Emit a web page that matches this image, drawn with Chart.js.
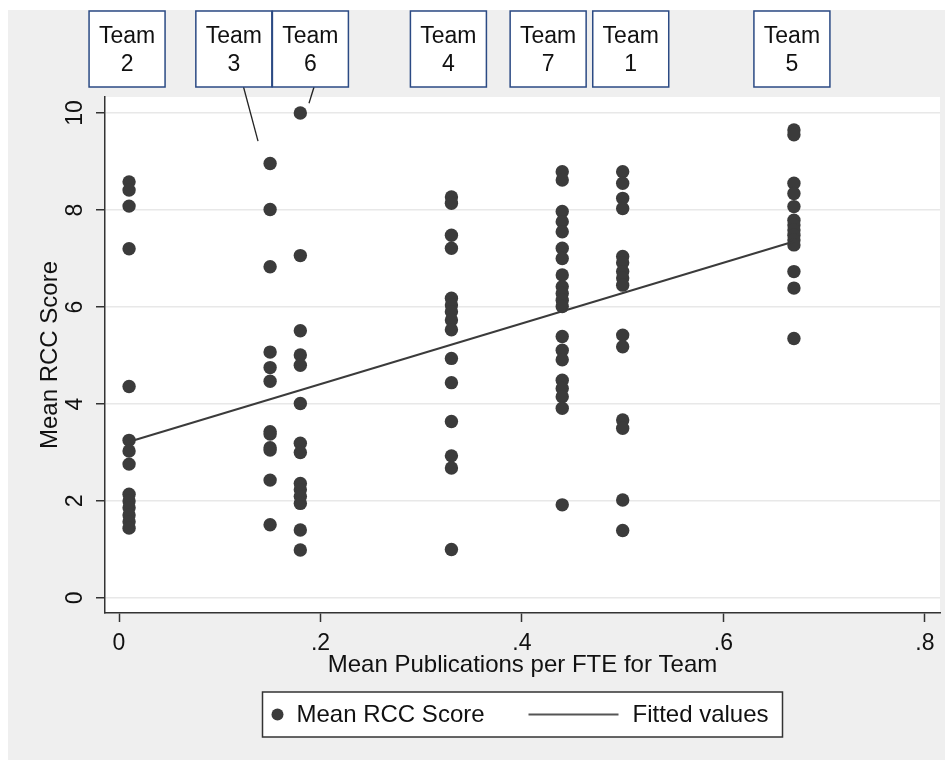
<!DOCTYPE html>
<html><head><meta charset="utf-8">
<script src="https://cdn.jsdelivr.net/npm/chart.js@4.4.1/dist/chart.umd.min.js"></script>
<style>html,body{margin:0;padding:0;background:#fff}canvas{display:block}</style>
</head><body>
<canvas id="c" width="951" height="764"></canvas>
<script>
// ---- data ----
const teamNames = ['Team 2', 'Team 3', 'Team 6', 'Team 4', 'Team 7', 'Team 1', 'Team 5'];
const teamPubs  = [0.01, 0.15, 0.18, 0.33, 0.44, 0.50, 0.67];
const team2Scores = [8.58, 8.41, 8.08, 7.20, 4.36, 3.25, 3.03, 2.76, 2.14, 2.00, 1.86, 1.71, 1.57, 1.44];
const team3Scores = [8.96, 8.01, 6.83, 5.07, 4.75, 4.47, 3.43, 3.38, 3.10, 3.05, 2.43, 1.51];
const team6Scores = [10.0, 7.06, 5.51, 5.01, 4.80, 4.01, 3.19, 3.00, 2.36, 2.23, 2.09, 1.95, 1.40, 0.99];
const team4Scores = [8.27, 8.14, 7.48, 7.21, 6.18, 6.04, 5.90, 5.73, 5.53, 4.94, 4.44, 3.64, 2.93, 2.68, 1.00];
const team7Scores = [8.79, 8.62, 7.97, 7.76, 7.55, 7.21, 7.00, 6.66, 6.42, 6.28, 6.14, 6.01, 5.39, 5.11, 4.91, 4.49, 4.32, 4.15, 3.91, 1.92];
const team1Scores = [8.79, 8.55, 8.24, 8.03, 7.04, 6.91, 6.73, 6.60, 6.45, 5.42, 5.18, 3.67, 3.50, 2.02, 1.39];
const team5Scores = [9.65, 9.55, 8.55, 8.34, 8.07, 7.79, 7.69, 7.59, 7.48, 7.38, 7.28, 6.73, 6.39, 5.35];
const fittedX = [0.01, 0.67];
const fittedY = [3.22, 7.35];
const xTickValues = [0, 0.2, 0.4, 0.6, 0.8];
const xTickLabels = ['0', '.2', '.4', '.6', '.8'];
const yTickValues = [0, 2, 4, 6, 8, 10];
const yTickLabels = ['0', '2', '4', '6', '8', '10'];
const xTitle = 'Mean Publications per FTE for Team';
const yTitle = 'Mean RCC Score';
const legendLabels = ['Mean RCC Score', 'Fitted values'];

// ---- team marker-label placement (data x of label boxes, leader lines) ----
const labelBoxX = [0.008, 0.114, 0.190, 0.327, 0.426, 0.508, 0.668];
const leaders = [
  { fromX: 0.1236, toX: 0.138, toY: 9.42 },
  { fromX: 0.1936, toX: 0.1886, toY: 10.2 }
];

const allScores = [team2Scores, team3Scores, team6Scores, team4Scores, team7Scores, team1Scores, team5Scores];
const scatterData = [];
allScores.forEach((arr, i) => arr.forEach(v => scatterData.push({ x: teamPubs[i], y: v })));
const fitData = fittedX.map((x, i) => ({ x, y: fittedY[i] }));

const FONT = '"Liberation Sans", Arial, sans-serif';
const INK = '#3b3b3b';

const bgPlugin = {
  id: 'bg',
  beforeDraw(chart) {
    const ctx = chart.ctx, a = chart.chartArea;
    ctx.save();
    ctx.fillStyle = '#ffffff';
    ctx.fillRect(0, 0, chart.width, chart.height);
    ctx.fillStyle = '#efefef';
    ctx.fillRect(8, 10, 937, 750);
    ctx.fillStyle = '#ffffff';
    ctx.fillRect(a.left, a.top, a.right - a.left, a.bottom - a.top);
    ctx.restore();
  }
};

const decoPlugin = {
  id: 'deco',
  afterDraw(chart) {
    const ctx = chart.ctx, a = chart.chartArea;
    const xs = chart.scales.x, ys = chart.scales.y;
    ctx.save();
    // leader lines
    ctx.strokeStyle = '#222';
    ctx.lineWidth = 1.3;
    leaders.forEach(l => {
      ctx.beginPath();
      ctx.moveTo(xs.getPixelForValue(l.fromX), a.top - 10);
      ctx.lineTo(xs.getPixelForValue(l.toX), ys.getPixelForValue(l.toY));
      ctx.stroke();
    });
    // label boxes
    const bw = 76, top = a.top - 86, bh = 76;
    teamNames.forEach((name, i) => {
      const cx = xs.getPixelForValue(labelBoxX[i]);
      ctx.fillStyle = '#ffffff';
      ctx.fillRect(cx - bw / 2, top, bw, bh);
      ctx.strokeStyle = '#2b4a84';
      ctx.lineWidth = 1.5;
      ctx.strokeRect(cx - bw / 2, top, bw, bh);
      const parts = name.split(' ');
      ctx.fillStyle = '#111';
      ctx.font = '23px ' + FONT;
      ctx.textAlign = 'center';
      ctx.textBaseline = 'middle';
      ctx.fillText(parts[0], cx, top + 26);
      ctx.fillText(parts[1], cx, top + 54);
    });
    // legend
    const cxm = (a.left + a.right) / 2;
    const lw = 520, lh = 45, lx = cxm - lw / 2, ly = 692;
    ctx.fillStyle = '#ffffff';
    ctx.fillRect(lx, ly, lw, lh);
    ctx.strokeStyle = '#333';
    ctx.lineWidth = 1.5;
    ctx.strokeRect(lx, ly, lw, lh);
    const my = ly + lh / 2;
    ctx.fillStyle = INK;
    ctx.beginPath();
    ctx.arc(lx + 15, my, 6, 0, Math.PI * 2);
    ctx.fill();
    ctx.font = '24px ' + FONT;
    ctx.textAlign = 'left';
    ctx.textBaseline = 'middle';
    ctx.fillStyle = '#111';
    ctx.fillText(legendLabels[0], lx + 34, my + 1);
    ctx.strokeStyle = '#555';
    ctx.lineWidth = 2;
    ctx.beginPath();
    ctx.moveTo(lx + 266, my);
    ctx.lineTo(lx + 356, my);
    ctx.stroke();
    ctx.fillText(legendLabels[1], lx + 370, my + 1);
    ctx.restore();
  }
};

new Chart(document.getElementById('c'), {
  data: {
    datasets: [
      { type: 'line', label: legendLabels[1], data: fitData, borderColor: INK, borderWidth: 2,
        pointRadius: 0, fill: false, order: 0 },
      { type: 'scatter', label: legendLabels[0], data: scatterData, backgroundColor: INK,
        borderWidth: 0, pointRadius: 6.7, pointHoverRadius: 6.7, order: 1 }
    ]
  },
  options: {
    responsive: false,
    animation: false,
    devicePixelRatio: 1,
    layout: { padding: { top: 97, right: 11, left: 0, bottom: 0 } },
    plugins: { legend: { display: false }, tooltip: { enabled: false } },
    scales: {
      x: {
        type: 'linear', min: -0.0139, max: 0.815,
        afterBuildTicks: s => { s.ticks = xTickValues.map(v => ({ value: v })); },
        afterFit: s => { s.height = 151; },
        ticks: {
          callback: (v) => xTickLabels[xTickValues.indexOf(v)] ?? '',
          color: '#111', font: { family: FONT, size: 23 }, padding: 8, maxRotation: 0, autoSkip: false
        },
        grid: { drawOnChartArea: false, drawTicks: true, tickLength: 9, tickColor: '#333', tickWidth: 1.5 },
        border: { display: true, color: '#333', width: 1.5 },
        title: { display: true, text: xTitle, color: '#111', font: { family: FONT, size: 24 },
          padding: { top: 0, bottom: 84 } }
      },
      y: {
        type: 'linear', min: -0.31, max: 10.33,
        afterBuildTicks: s => { s.ticks = yTickValues.map(v => ({ value: v })); },
        afterFit: s => { s.width = 105; },
        ticks: {
          callback: (v) => yTickLabels[yTickValues.indexOf(v)] ?? '',
          color: '#111', font: { family: FONT, size: 23 }, padding: 8,
          minRotation: 90, maxRotation: 90, crossAlign: 'center', autoSkip: false
        },
        grid: { drawOnChartArea: true, color: '#e8e8e8', lineWidth: 1.5, drawTicks: true,
          tickLength: 9, tickColor: '#333', tickWidth: 1.5 },
        border: { display: true, color: '#333', width: 1.5 },
        title: { display: true, text: yTitle, color: '#111', font: { family: FONT, size: 24 },
          padding: { top: 36, bottom: 0 } }
      }
    }
  },
  plugins: [bgPlugin, decoPlugin]
});
</script>
</body></html>
